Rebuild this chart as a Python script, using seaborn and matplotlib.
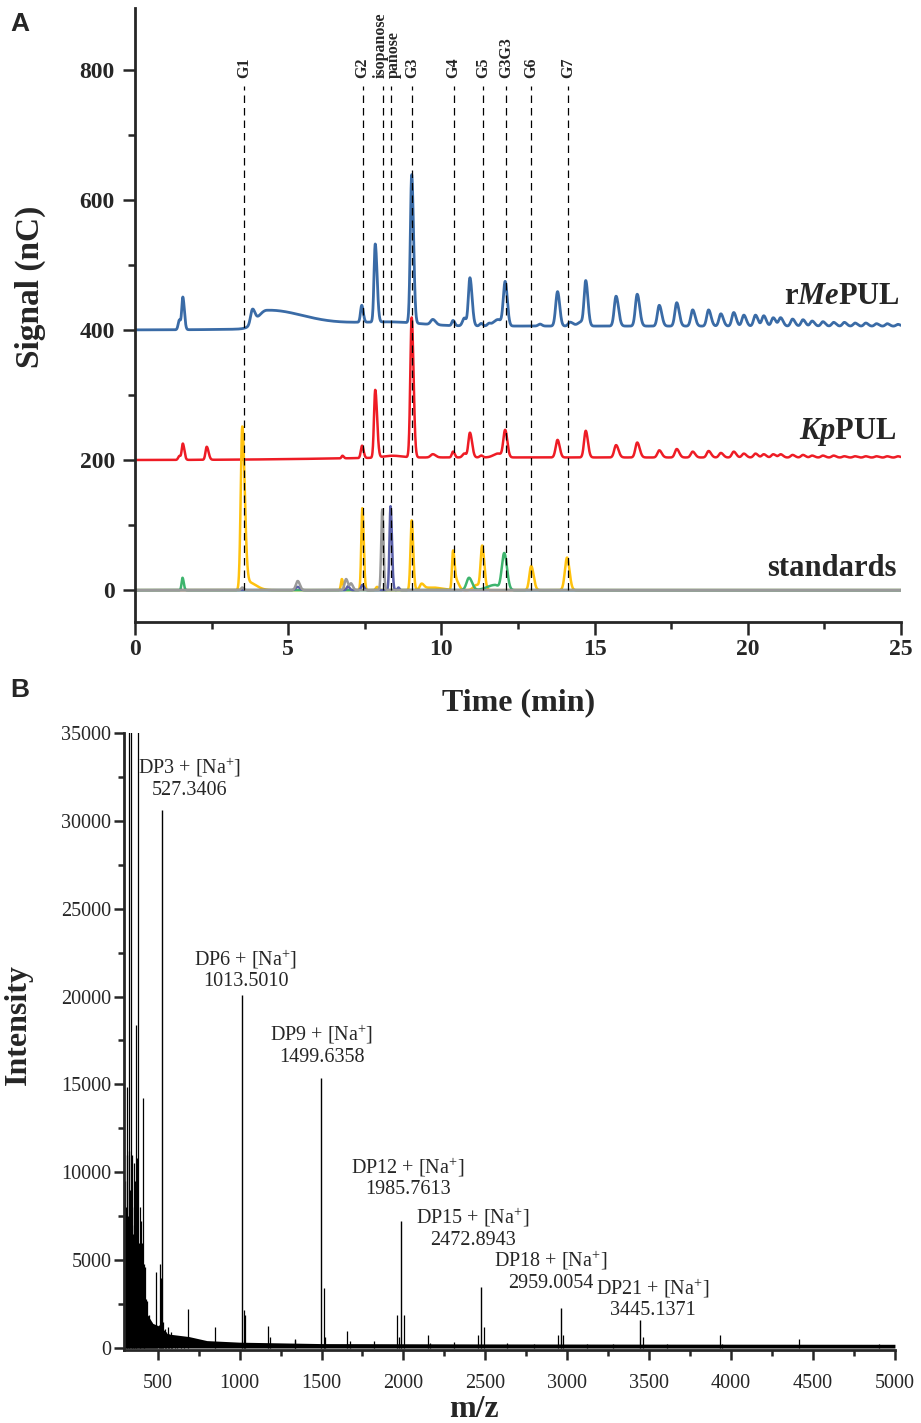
import numpy as np
import pandas as pd
import matplotlib
matplotlib.use("Agg")
import matplotlib.pyplot as plt
from matplotlib.ticker import MultipleLocator
import seaborn as sns

# ---------------- Panel A data (HPAEC-PAD chromatograms) ----------------
# each peak: retention time (min), height (nC), left width, right width
mepul_offset = 400
mepul_t = [1.45, 1.56, 3.83, 4.30, 8.20, 10.0, 7.40, 7.84, 9.03, 9.72, 10.38, 10.75, 10.93, 11.30, 11.55,
           11.85, 12.08, 13.22, 13.79, 14.20, 14.55, 14.71, 15.70, 16.39, 17.11, 17.68, 18.20, 18.72,
           19.12, 19.54, 19.87, 20.25, 20.52, 20.83, 21.07, 21.46, 21.80, 22.10, 22.45, 22.80, 23.15,
           23.50, 23.85, 24.20, 24.55, 24.90]
mepul_h = [15, 50, 22, 28, 7, 6, 26, 120, 228, 8, 8, 12, 74, 4, 3,
           10, 68, 3, 53, 6, 6, 70, 46, 49, 32, 36, 25, 25,
           19, 21, 17, 17, 16, 13, 13, 11, 10, 8, 7, 6, 6,
           5, 5, 4, 4, 3]
mepul_wl = [0.04, 0.035, 0.06, 0.30, 1.8, 3.5, 0.04, 0.04, 0.045, 0.07, 0.04, 0.06, 0.05, 0.05, 0.05,
            0.15, 0.06, 0.06, 0.06, 0.06, 0.10, 0.055, 0.06, 0.06, 0.06, 0.06, 0.06, 0.06,
            0.06, 0.06, 0.06, 0.06, 0.06, 0.06, 0.06, 0.06, 0.06, 0.06, 0.06, 0.06, 0.06,
            0.06, 0.06, 0.06, 0.06, 0.06]
mepul_wr = [0.04, 0.05, 0.08, 1.20, 1.0, 40.0, 0.05, 0.06, 0.06, 0.09, 0.05, 0.06, 0.07, 0.05, 0.05,
            0.10, 0.07, 0.06, 0.07, 0.10, 0.05, 0.07, 0.08, 0.08, 0.08, 0.08, 0.08, 0.08,
            0.08, 0.08, 0.08, 0.08, 0.08, 0.08, 0.08, 0.08, 0.08, 0.08, 0.08, 0.08, 0.08,
            0.08, 0.08, 0.08, 0.08, 0.08]

kppul_offset = 200
kppul_t = [1.45, 1.56, 2.34, 6.77, 7.41, 7.84, 8.40, 9.03, 9.72, 10.0, 10.38, 10.75, 10.93, 11.30,
           11.85, 12.08, 13.79, 14.71, 15.70, 16.39, 17.11, 17.68, 18.20, 18.72, 19.12, 19.54,
           19.87, 20.25, 20.52, 20.83, 21.07, 21.46, 21.80, 22.10, 22.45, 22.80, 23.15, 23.50,
           23.85, 24.20, 24.55, 24.90]
kppul_h = [6, 25, 20, 4, 19, 104, 3, 215, 5, 4, 9, 6, 38, 3,
           6, 42, 27, 41, 19, 23, 11, 13, 9, 10, 7, 9,
           6, 6, 5, 5, 5, 4, 4, 3, 3, 3, 2, 2,
           2, 2, 2, 2]
kppul_wl = [0.04, 0.035, 0.04, 0.03, 0.04, 0.04, 0.30, 0.045, 0.07, 3.5, 0.04, 0.06, 0.05, 0.05,
            0.15, 0.06, 0.06, 0.055, 0.06, 0.06, 0.06, 0.06, 0.06, 0.06, 0.06, 0.06,
            0.06, 0.06, 0.06, 0.06, 0.06, 0.06, 0.06, 0.06, 0.06, 0.06, 0.06, 0.06,
            0.06, 0.06, 0.06, 0.06]
kppul_wr = [0.04, 0.05, 0.06, 0.04, 0.05, 0.06, 0.30, 0.06, 0.09, 40.0, 0.05, 0.06, 0.07, 0.05,
            0.10, 0.07, 0.07, 0.07, 0.08, 0.08, 0.08, 0.08, 0.08, 0.08, 0.08, 0.08,
            0.08, 0.08, 0.08, 0.08, 0.08, 0.08, 0.08, 0.08, 0.08, 0.08, 0.08, 0.08,
            0.08, 0.08, 0.08, 0.08]

# standards (offset 0)
std_yellow_t = [3.50, 3.70, 6.75, 7.42, 7.90, 9.03, 9.35, 9.70, 10.38, 10.50, 11.15, 11.33, 12.93, 14.10]
std_yellow_h = [250, 12, 17, 126, 5, 107, 8, 4, 60, 13, 8, 67, 37, 50]
std_yellow_wl = [0.05, 0.10, 0.03, 0.035, 0.04, 0.04, 0.05, 0.30, 0.035, 0.05, 0.10, 0.05, 0.06, 0.07]
std_yellow_wr = [0.08, 0.25, 0.04, 0.045, 0.05, 0.05, 0.08, 0.30, 0.05, 0.08, 0.10, 0.07, 0.08, 0.08]

std_green_t = [1.55, 10.90, 11.75, 12.05]
std_green_h = [19, 19, 8, 57]
std_green_wl = [0.03, 0.08, 0.25, 0.08]
std_green_wr = [0.04, 0.10, 0.10, 0.09]

std_purple_t = [5.31, 6.95, 7.42, 8.34, 8.60]
std_purple_h = [5, 6, 8, 129, 4]
std_purple_wl = [0.07, 0.04, 0.04, 0.035, 0.03]
std_purple_wr = [0.07, 0.05, 0.05, 0.045, 0.03]

std_gray_t = [3.50, 5.31, 6.89, 7.05, 8.07]
std_gray_h = [4, 14, 17, 10, 124]
std_gray_wl = [0.04, 0.06, 0.05, 0.04, 0.035]
std_gray_wr = [0.05, 0.07, 0.06, 0.06, 0.04]

marker_names = ["G1", "G2", "isopanose", "panose", "G3", "G4", "G5", "G3G3", "G6", "G7"]
marker_times = [3.55, 7.43, 8.08, 8.37, 9.05, 10.40, 11.36, 12.10, 12.93, 14.14]
marker_label_times = [3.55, 7.43, 8.01, 8.45, 9.05, 10.40, 11.36, 12.10, 12.93, 14.14]

# ---------------- Panel B data (MALDI-TOF MS) ----------------
dp_mz = [527.3406, 1013.5010, 1499.6358, 1985.7613, 2472.8943, 2959.0054, 3445.1371]
dp_intensity = [30600, 20100, 15350, 7250, 3470, 2280, 1600]
dp_names = ["DP3", "DP6", "DP9", "DP12", "DP15", "DP18", "DP21"]
dp_label_mz = [697, 1039, 1503, 2027, 2424, 2900, 3522]
dp_label_int = [32440, 21540, 17244, 9703, 6829, 4382, 2817]

low_mz = [298, 302, 306, 310, 314, 318, 322, 327, 331, 337, 341, 345, 349, 353, 358, 362, 366, 370,
          375, 380, 384, 389, 394, 399, 404, 409, 414, 418, 423, 429, 436, 441, 446, 451, 457, 463,
          469, 475, 481, 489, 497, 505, 513, 520, 535, 545, 553, 562, 571, 580, 590, 605, 620, 640, 660]
low_int = [6500, 9500, 8000, 11000, 14850, 7500, 11200, 60000, 9000, 60000, 8000, 11000, 6500, 10500,
           7000, 9500, 18400, 8000, 10800, 60000, 6000, 8000, 5000, 7200, 6000, 14200, 4800, 4300,
           4600, 2800, 2700, 1800, 1900, 1400, 1500, 1200, 1000, 1100, 900, 4300, 1000, 1300, 4800,
           4000, 1500, 1100, 900, 1200, 800, 900, 700, 650, 600, 550, 500]

minor_mz = [687, 847, 1029, 1035, 1171, 1188, 1335, 1340, 1515.6, 1521, 1657, 1675, 1820, 1961,
            1973, 2001.7, 2147, 2160, 2310, 2456, 2488.8, 2634, 2794, 2943, 2975, 3120, 3281,
            3461, 3608, 3931, 3947, 4417, 4900]
minor_int = [2200, 1200, 2150, 1900, 1260, 600, 500, 450, 3400, 600, 980, 400, 400, 1890,
             600, 1890, 760, 300, 350, 740, 1200, 300, 250, 740, 740, 250, 200,
             620, 250, 750, 250, 500, 250]

noise_mz = [294, 340, 370, 400, 430, 470, 520, 560, 690, 800, 1000, 1500, 2500, 3500, 5000]
noise_int = [6000, 5600, 5000, 3700, 2000, 1400, 1200, 800, 650, 420, 330, 250, 230, 220, 210]

# ---------------- style ----------------
sns.set_theme(style="ticks")
plt.rcParams["font.family"] = ["Liberation Serif", "DejaVu Serif"]
plt.rcParams["mathtext.fontset"] = "custom"
plt.rcParams["mathtext.rm"] = "Liberation Serif"
plt.rcParams["mathtext.bf"] = "Liberation Serif:bold"
plt.rcParams["mathtext.it"] = "Liberation Serif:italic:bold"

C_BLUE = "#3A6BA6"
C_RED = "#EE1C25"
C_YELLOW = "#FFC20E"
C_GREEN = "#3DB46D"
C_PURPLE = "#5A5FA8"
C_GRAY = "#9A9A9A"

time = np.linspace(0, 25, 5001)


def trace(tc, h, wl, wr, offset):
    y = np.full_like(time, float(offset))
    for c, a, l, r in zip(tc, h, wl, wr):
        w = np.where(time < c, l, r)
        y += a * np.exp(-0.5 * ((time - c) / w) ** 2)
    return y


fig = plt.figure(figsize=(9.21, 14.23), dpi=100)
axA = fig.add_axes([0.1466, 0.5629, 0.8317, 0.4315])
axB = fig.add_axes([0.1346, 0.0513, 0.8371, 0.4336])

# ---------------- Panel A ----------------
series = [
    (mepul_t, mepul_h, mepul_wl, mepul_wr, mepul_offset, C_BLUE, 2.0),
    (kppul_t, kppul_h, kppul_wl, kppul_wr, kppul_offset, C_RED, 1.8),
    (std_yellow_t, std_yellow_h, std_yellow_wl, std_yellow_wr, 0, C_YELLOW, 1.8),
    (std_green_t, std_green_h, std_green_wl, std_green_wr, 0, C_GREEN, 1.8),
    (std_purple_t, std_purple_h, std_purple_wl, std_purple_wr, 0, C_PURPLE, 1.8),
    (std_gray_t, std_gray_h, std_gray_wl, std_gray_wr, 0, C_GRAY, 1.8),
]
for tc, h, wl, wr, off, col, lw in series:
    df = pd.DataFrame({"time": time, "signal": trace(tc, h, wl, wr, off)})
    sns.lineplot(data=df, x="time", y="signal", ax=axA, color=col, linewidth=lw,
                 estimator=None, sort=False)

for name, tm, tl in zip(marker_names, marker_times, marker_label_times):
    axA.plot([tm, tm], [0, 775], color="black", lw=0.9, ls=(0, (6, 4)), zorder=5)
    axA.text(tl, 788, name, rotation=90, ha="center", va="bottom", fontsize=11.5,
             fontweight="bold", linespacing=1.0)

axA.text(24.95, 451, r"$\mathbf{r}\mathit{Me}\mathbf{PUL}$", ha="right", va="center", fontsize=22)
axA.text(24.85, 243, r"$\mathit{Kp}\mathbf{PUL}$", ha="right", va="center", fontsize=22)
axA.text(24.85, 34, "standards", ha="right", va="center", fontsize=22, fontweight="bold")

axA.set_xlim(0, 25)
axA.set_ylim(-49, 895)
axA.xaxis.set_major_locator(MultipleLocator(5))
axA.xaxis.set_minor_locator(MultipleLocator(2.5))
axA.yaxis.set_major_locator(MultipleLocator(200))
axA.yaxis.set_minor_locator(MultipleLocator(100))
axA.set_xlabel("Time (min)", fontsize=23, fontweight="bold")
axA.set_ylabel("Signal (nC)", fontsize=24, fontweight="bold")
axA.xaxis.set_label_coords(0.501, -0.108)
axA.yaxis.set_label_coords(-0.116, 0.5456)
axA.tick_params(which="major", direction="out", length=9, width=1.8, labelsize=17)
axA.tick_params(axis="y", which="major", pad=5.5)
axA.tick_params(axis="x", which="major", pad=3)
axA.tick_params(which="minor", direction="out", length=5, width=1.8)
for lab in axA.get_xticklabels() + axA.get_yticklabels():
    lab.set_fontweight("bold")
sns.despine(ax=axA)
for s in ("left", "bottom"):
    axA.spines[s].set_linewidth(2.0)

# ---------------- Panel B ----------------
axB.fill_between(noise_mz, 0, noise_int, color="black", lw=0)
axB.vlines(low_mz, 0, low_int, colors="black", linewidth=0.9)
axB.vlines(minor_mz, 0, minor_int, colors="black", linewidth=0.9)
axB.vlines(dp_mz, 0, dp_intensity, colors="black", linewidth=1.0)

for nm, mz, lx, ly in zip(dp_names, dp_mz, dp_label_mz, dp_label_int):
    axB.text(lx, ly, nm + r" + [Na$^{+}$]" + "\n" + f"{mz:.4f}", ha="center", va="center",
             fontsize=14.5, linespacing=1.1, multialignment="center")

axB.set_xlim(294, 5000)
axB.set_ylim(-115, 35000)
axB.xaxis.set_major_locator(MultipleLocator(500))
axB.xaxis.set_minor_locator(MultipleLocator(250))
axB.yaxis.set_major_locator(MultipleLocator(5000))
axB.yaxis.set_minor_locator(MultipleLocator(2500))
axB.set_xlabel("m/z", fontsize=23, fontweight="bold")
axB.set_ylabel("Intensity", fontsize=23, fontweight="bold")
axB.xaxis.set_label_coords(0.454, -0.073)
axB.yaxis.set_label_coords(-0.118, 0.527)
axB.tick_params(which="major", direction="out", length=7, width=1.8, labelsize=14.5)
axB.tick_params(axis="x", which="major", pad=10)
axB.tick_params(axis="y", which="major", pad=2)
axB.tick_params(which="minor", direction="out", length=4, width=1.8)
sns.despine(ax=axB)
for s in ("left", "bottom"):
    axB.spines[s].set_linewidth(2.0)

fig.text(0.011, 0.9915, "A", fontsize=19, fontweight="bold", family="Liberation Sans", va="top")
fig.text(0.011, 0.5235, "B", fontsize=19, fontweight="bold", family="Liberation Sans", va="top")

fig.savefig("out.png", dpi=100)
